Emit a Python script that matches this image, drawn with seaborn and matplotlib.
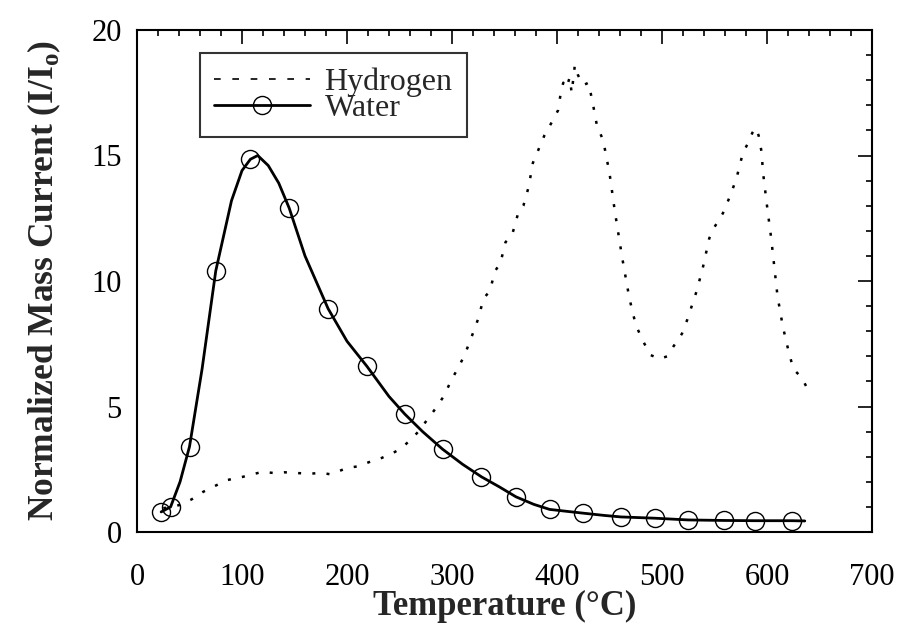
import matplotlib
matplotlib.use("Agg")
import matplotlib.pyplot as plt
import seaborn as sns
import pandas as pd
from matplotlib.ticker import MultipleLocator
from matplotlib.lines import Line2D

# ---- data ----
# Hydrogen (dashed trace)
hydrogen_T = [25, 33, 41, 52, 63, 75, 86, 95, 101, 110, 120, 130, 140, 152, 165, 175, 184,
              192, 200, 211, 222, 233, 244, 252, 260, 268, 276, 284, 292, 300, 306, 312,
              318, 325, 330, 336, 341, 346, 351, 357, 363, 368, 373, 377, 383, 388, 396,
              401, 404, 406, 409, 412, 414, 417, 420, 425, 430, 434, 438, 444, 450, 455,
              462, 466, 469, 475, 482, 489, 498, 505, 511, 519, 524, 533, 539, 545, 550,
              558, 563, 568, 571, 577, 582, 586, 589, 592, 595, 596, 600, 604, 610, 615,
              620, 625, 633, 638]
hydrogen_I = [0.95, 1.0, 1.08, 1.3, 1.6, 1.85, 2.07, 2.15, 2.2, 2.3, 2.4, 2.35, 2.38, 2.35,
              2.32, 2.36, 2.3, 2.42, 2.55, 2.62, 2.8, 2.95, 3.15, 3.35, 3.65, 4.0, 4.45,
              4.9, 5.4, 6.1, 6.55, 7.05, 7.7, 8.5, 9.3, 9.6, 10.4, 10.7, 11.55, 11.8, 12.7,
              13.0, 13.75, 14.7, 15.3, 15.8, 16.4, 16.8, 17.6, 17.9, 17.7, 18.1, 17.5,
              18.6, 18.2, 17.8, 17.9, 17.1, 16.2, 15.6, 14.3, 12.8, 10.95, 10.0, 9.3,
              8.25, 7.6, 7.05, 6.9, 7.0, 7.4, 7.9, 8.45, 9.6, 10.55, 11.7, 12.15, 12.7,
              13.2, 13.75, 14.1, 15.1, 15.5, 15.9, 16.1, 15.8, 15.1, 14.4, 13.0, 11.7,
              9.4, 8.2, 7.3, 6.5, 6.15, 5.75]

# Water (solid curve) and its circle markers
water_T = [23, 32, 41, 50, 62, 75, 90, 100, 108, 115, 125, 135, 145, 160, 182, 200, 219,
           240, 255, 272, 291, 310, 328, 345, 361, 378, 393, 410, 425, 445, 461, 493,
           525, 559, 589, 624, 636]
water_I = [0.8, 1.0, 2.0, 3.4, 6.5, 10.4, 13.2, 14.4, 14.85, 15.0, 14.6, 13.9, 12.9, 11.0,
           8.9, 7.6, 6.6, 5.4, 4.7, 4.0, 3.3, 2.7, 2.2, 1.8, 1.4, 1.1, 0.9, 0.82, 0.75,
           0.66, 0.6, 0.55, 0.48, 0.46, 0.45, 0.45, 0.44]
water_marker_T = [23, 32, 50, 75, 108, 145, 182, 219, 255, 291, 328, 361, 393, 425, 461,
                  493, 525, 559, 589, 624]
water_marker_I = [0.8, 1.0, 3.4, 10.4, 14.85, 12.9, 8.9, 6.6, 4.7, 3.3, 2.2, 1.4, 0.9,
                  0.75, 0.6, 0.55, 0.48, 0.46, 0.45, 0.45]

x_ticks = [0, 100, 200, 300, 400, 500, 600, 700]
y_ticks = [0, 5, 10, 15, 20]

sns.set_theme(style="white")
plt.rcParams['font.family'] = ['Liberation Serif', 'DejaVu Serif']
plt.rcParams['mathtext.fontset'] = 'custom'
plt.rcParams['mathtext.rm'] = 'Liberation Serif'
plt.rcParams['mathtext.bf'] = 'Liberation Serif:bold'

fig = plt.figure(figsize=(9.02, 6.23), dpi=100)
ax = fig.add_axes([137/902, 1 - 532/623, (872-137)/902, (532-30)/623])

h_df = pd.DataFrame({"T": hydrogen_T, "I": hydrogen_I})
w_df = pd.DataFrame({"T": water_T, "I": water_I})
wm_df = pd.DataFrame({"T": water_marker_T, "I": water_marker_I})

sns.lineplot(data=h_df, x="T", y="I", ax=ax, color="black", linewidth=1.8,
             linestyle=(0, (1.2, 4.5)), sort=False, estimator=None)
sns.lineplot(data=w_df, x="T", y="I", ax=ax, color="black", linewidth=2.0,
             sort=False, estimator=None)
ax.plot(wm_df["T"], wm_df["I"], linestyle="none", marker="o", markersize=13,
        markerfacecolor="none", markeredgecolor="black", markeredgewidth=1.0)

# legend proxies
handles = [Line2D([], [], color="black", linewidth=1.2, linestyle=(0, (4, 7))),
           Line2D([], [], color="black", linewidth=2.0, marker="o", markersize=13,
                  markerfacecolor="none", markeredgewidth=1.0)]
leg = ax.legend(handles, ["Hydrogen", "Water"], loc="upper left",
                bbox_to_anchor=(63/735, 1 - 23/502), fontsize=23, frameon=True,
                fancybox=False, edgecolor="black", handlelength=3.0,
                handletextpad=0.45, labelspacing=-0.1, borderpad=0.45,
                borderaxespad=0)
leg.get_frame().set_linewidth(1.5)

ax.set_xlim(0, 700)
ax.set_ylim(0, 20)
ax.set_xticks(x_ticks)
ax.set_yticks(y_ticks)
ax.xaxis.set_minor_locator(MultipleLocator(20))
ax.yaxis.set_minor_locator(MultipleLocator(1))
ax.tick_params(which="both", direction="in", top=True, right=True, colors="black",
               labelsize=22, width=1.2)
ax.tick_params(which="major", length=10)
ax.tick_params(which="minor", length=4.5)
ax.tick_params(axis="x", which="major", pad=22)
ax.tick_params(axis="y", which="major", pad=11)
for s in ax.spines.values():
    s.set_color("black")
    s.set_linewidth(1.5)

ax.set_xlabel("Temperature (°C)", fontsize=25, fontweight="bold", labelpad=-1)
ax.set_ylabel(r"Normalized Mass Current (I/I$_{\mathbf{o}}$)", fontsize=25.5,
              fontweight="bold", labelpad=20)

fig.savefig("out.png", dpi=100)
